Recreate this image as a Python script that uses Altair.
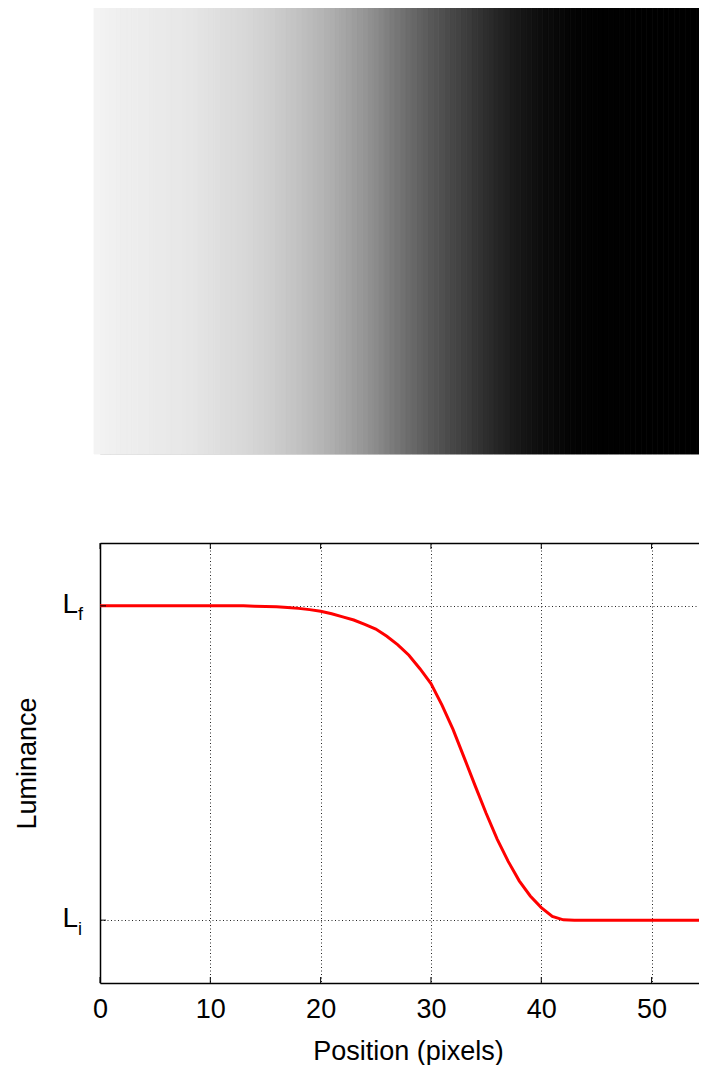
import altair as alt
import pandas as pd

# --- top panel: grey levels (0-255) of the edge image, sampled every half source column
img_gray = [243, 242, 241, 240, 239, 238, 238, 237, 236, 236, 235, 234, 234, 233,
            232, 232, 231, 230, 229, 227, 226, 225, 223, 221, 220, 219, 217, 216,
            214, 212, 210, 208, 206, 203, 201, 198, 196, 193, 190, 187, 184, 181,
            177, 174, 170, 166, 162, 157, 153, 149, 144, 139, 134, 128, 123, 118,
            113, 108, 103, 98, 93, 88, 84, 80, 75, 71, 67, 63, 59, 54, 50, 46,
            42, 38, 35, 31, 27, 24, 21, 18, 16, 13, 11, 10, 8, 7, 5, 4,
            3, 2, 2, 1, 1, 1, 1, 1, 1, 1, 0, 0, 0, 0, 0, 0,
            0, 0, 0, 0, 0, 0, 0, 0, 0, 0]
img_cols = list(range(len(img_gray)))
img_rows = [0] * len(img_gray)

# --- bottom panel: luminance profile (L_i = 0, L_f = 1)
position = list(range(57))
luminance = [1.0] * 14 + [
    0.999, 0.998, 0.997, 0.995, 0.992, 0.988, 0.983, 0.975, 0.965, 0.955,
    0.941, 0.926, 0.903, 0.876, 0.843, 0.800, 0.753, 0.684, 0.607, 0.518,
    0.428, 0.340, 0.258, 0.187, 0.125, 0.077, 0.040, 0.012, 0.001] + [0.0] * 14

x_ticks = [0, 10, 20, 30, 40, 50]
lum_levels = [0, 1]
lum_main = ["L", "L"]
lum_sub = ["i", "f"]

FONT = "Liberation Sans"
PX_PER_UNIT = 607 / 55
X_MAX = 56.2
W, H = round(X_MAX * PX_PER_UNIT), 440
IMG_COL_PX = 613 / 112

img_df = pd.DataFrame({"col": img_cols, "gray": img_gray, "row": img_rows})
gray_scale = alt.Scale(domain=[0, 255], range=["#000000", "#ffffff"], interpolate="rgb")

image = alt.Chart(img_df).transform_calculate(
    col_end="datum.col + 1"
).mark_rect(strokeWidth=0.8).encode(
    x=alt.X("col:Q", scale=alt.Scale(domain=[0, len(img_gray)],
                                     range=[-6, -6 + len(img_gray) * IMG_COL_PX],
                                     nice=False, zero=False), axis=None),
    x2="col_end:Q",
    y=alt.Y("row:O", axis=None, scale=alt.Scale(paddingInner=0, paddingOuter=0)),
    fill=alt.Fill("gray:Q", scale=gray_scale, legend=None),
    stroke=alt.Stroke("gray:Q", scale=gray_scale, legend=None),
).properties(width=W, height=447)

line_df = pd.DataFrame({"position": position, "luminance": luminance})
tick_df = pd.DataFrame({"tick": x_ticks})
lev_df = pd.DataFrame({"level": lum_levels, "main": lum_main, "sub": lum_sub})

x_scale = alt.Scale(domain=[0, X_MAX], nice=False, zero=False)
y_scale = alt.Scale(domain=[-0.2, 1.2], nice=False, zero=False)

x_axis = alt.Axis(
    values=x_ticks, grid=True, gridColor="#000000", gridDash=[1, 2.5], gridWidth=1,
    gridOpacity=0.85, domain=True, domainColor="#000000", domainWidth=1.5,
    ticks=False, tickSize=0, labelFontSize=27, labelFont=FONT, labelColor="#000000",
    labelPadding=13, labelFlush=False, title="Position (pixels)", titleFontSize=27,
    titleFont=FONT, titleFontWeight="normal", titleColor="#000000", titlePadding=16,
    titleX=308,
)
y_axis = alt.Axis(
    values=lum_levels, grid=True, gridColor="#000000", gridDash=[1, 2.5], gridWidth=1,
    gridOpacity=0.85, domain=True, domainColor="#000000", domainWidth=1.5,
    ticks=False, tickSize=0, labels=False, title="Luminance", titleFontSize=27,
    titleFont=FONT, titleFontWeight="normal", titleColor="#000000", titlePadding=59,
)

line = alt.Chart(line_df).mark_line(color="#ff0000", strokeWidth=3, clip=True).encode(
    x=alt.X("position:Q", scale=x_scale, axis=x_axis),
    y=alt.Y("luminance:Q", scale=y_scale, axis=y_axis),
)

top_ticks = alt.Chart(tick_df).mark_rule(color="#000000", strokeWidth=1).encode(
    x=alt.X("tick:Q", scale=x_scale, axis=alt.Axis(
        orient="top", labels=False, ticks=False, grid=False, title=None,
        domain=True, domainColor="#000000", domainWidth=1.5)),
    y=alt.value(0), y2=alt.value(6),
)
bottom_ticks = alt.Chart(tick_df).mark_rule(color="#000000", strokeWidth=1).encode(
    x=alt.X("tick:Q", scale=x_scale, axis=None),
    y=alt.value(H), y2=alt.value(H - 6),
)
left_ticks = alt.Chart(lev_df).mark_rule(color="#000000", strokeWidth=1).encode(
    y=alt.Y("level:Q", scale=y_scale, axis=y_axis),
    x=alt.value(0), x2=alt.value(6),
)
main_txt = alt.Chart(lev_df).mark_text(
    fontSize=28, font=FONT, align="right", baseline="alphabetic", dy=7, color="#000000"
).encode(
    y=alt.Y("level:Q", scale=y_scale, axis=y_axis),
    x=alt.value(-22),
    text="main:N",
)
sub_txt = alt.Chart(lev_df).mark_text(
    fontSize=18, font=FONT, align="left", baseline="alphabetic", dy=14.5, color="#000000"
).encode(
    y=alt.Y("level:Q", scale=y_scale, axis=y_axis),
    x=alt.value(-22),
    text="sub:N",
)

plot = alt.layer(
    line, top_ticks, bottom_ticks, left_ticks, main_txt, sub_txt
).resolve_axis(x="independent").properties(width=W, height=H)

chart = alt.vconcat(image, plot, spacing=87).properties(
    padding={"left": 4, "top": -2, "right": -22, "bottom": 0}
).configure_view(stroke=None).configure(font=FONT)

chart.save("out.html", embed_options={"renderer": "svg", "actions": False})
